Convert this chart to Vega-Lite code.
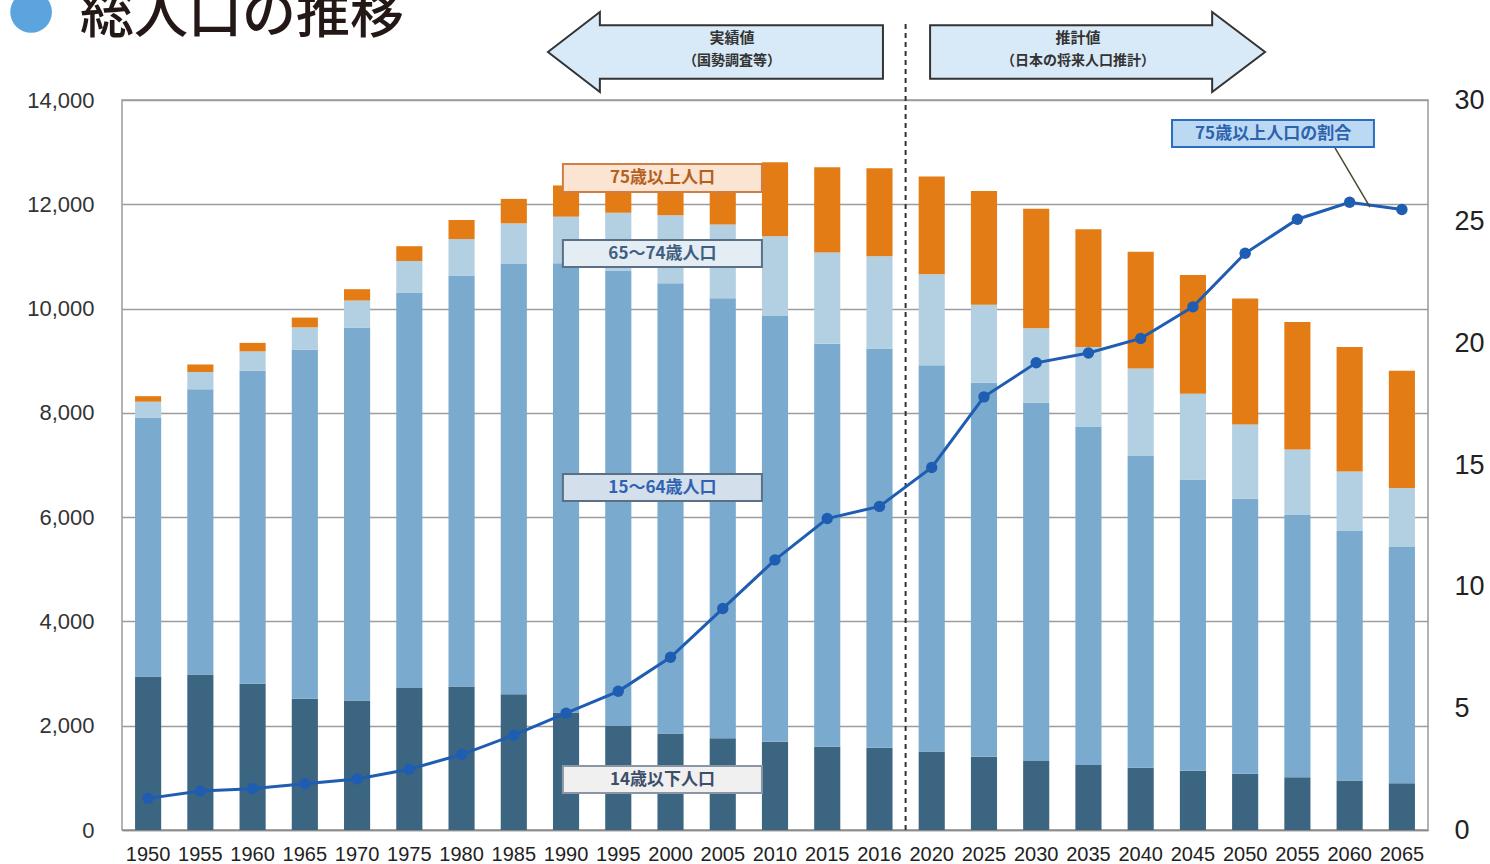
{
  "$schema": "https://vega.github.io/schema/vega-lite/v6.json",
  "autosize": "none",
  "padding": {"left": 122, "top": 100, "right": 62, "bottom": 34},
  "width": 1306,
  "height": 730,
  "background": "white",
  "config": {
    "view": {"stroke": "#9a9a9a", "strokeWidth": 1.5},
    "font": "Noto Sans CJK JP"
  },
  "title": {
    "text": "総人口の推移",
    "anchor": "start",
    "frame": "group",
    "baseline": "alphabetic",
    "dx": -42,
    "dy": 96,
    "offset": 0,
    "font": "Noto Sans CJK JP",
    "fontSize": 54,
    "color": "#231815",
    "fontWeight": 500
  },
  "datasets": {
    "pop": [
      {"year": "1950", "age": "14歳以下人口", "pop": 2943}, {"year": "1950", "age": "15〜64歳人口", "pop": 4966}, {"year": "1950", "age": "65〜74歳人口", "pop": 305}, {"year": "1950", "age": "75歳以上人口", "pop": 106},
      {"year": "1955", "age": "14歳以下人口", "pop": 2980}, {"year": "1955", "age": "15〜64歳人口", "pop": 5473}, {"year": "1955", "age": "65〜74歳人口", "pop": 331}, {"year": "1955", "age": "75歳以上人口", "pop": 144},
      {"year": "1960", "age": "14歳以下人口", "pop": 2807}, {"year": "1960", "age": "15〜64歳人口", "pop": 6000}, {"year": "1960", "age": "65〜74歳人口", "pop": 372}, {"year": "1960", "age": "75歳以上人口", "pop": 163},
      {"year": "1965", "age": "14歳以下人口", "pop": 2517}, {"year": "1965", "age": "15〜64歳人口", "pop": 6692}, {"year": "1965", "age": "65〜74歳人口", "pop": 431}, {"year": "1965", "age": "75歳以上人口", "pop": 187},
      {"year": "1970", "age": "14歳以下人口", "pop": 2482}, {"year": "1970", "age": "15〜64歳人口", "pop": 7157}, {"year": "1970", "age": "65〜74歳人口", "pop": 515}, {"year": "1970", "age": "75歳以上人口", "pop": 218},
      {"year": "1975", "age": "14歳以下人口", "pop": 2722}, {"year": "1975", "age": "15〜64歳人口", "pop": 7584}, {"year": "1975", "age": "65〜74歳人口", "pop": 606}, {"year": "1975", "age": "75歳以上人口", "pop": 284},
      {"year": "1980", "age": "14歳以下人口", "pop": 2751}, {"year": "1980", "age": "15〜64歳人口", "pop": 7883}, {"year": "1980", "age": "65〜74歳人口", "pop": 699}, {"year": "1980", "age": "75歳以上人口", "pop": 366},
      {"year": "1985", "age": "14歳以下人口", "pop": 2603}, {"year": "1985", "age": "15〜64歳人口", "pop": 8251}, {"year": "1985", "age": "65〜74歳人口", "pop": 779}, {"year": "1985", "age": "75歳以上人口", "pop": 471},
      {"year": "1990", "age": "14歳以下人口", "pop": 2255}, {"year": "1990", "age": "15〜64歳人口", "pop": 8612}, {"year": "1990", "age": "65〜74歳人口", "pop": 895}, {"year": "1990", "age": "75歳以上人口", "pop": 599},
      {"year": "1995", "age": "14歳以下人口", "pop": 2003}, {"year": "1995", "age": "15〜64歳人口", "pop": 8726}, {"year": "1995", "age": "65〜74歳人口", "pop": 1110}, {"year": "1995", "age": "75歳以上人口", "pop": 718},
      {"year": "2000", "age": "14歳以下人口", "pop": 1850}, {"year": "2000", "age": "15〜64歳人口", "pop": 8638}, {"year": "2000", "age": "65〜74歳人口", "pop": 1303}, {"year": "2000", "age": "75歳以上人口", "pop": 902},
      {"year": "2005", "age": "14歳以下人口", "pop": 1759}, {"year": "2005", "age": "15〜64歳人口", "pop": 8441}, {"year": "2005", "age": "65〜74歳人口", "pop": 1412}, {"year": "2005", "age": "75歳以上人口", "pop": 1165},
      {"year": "2010", "age": "14歳以下人口", "pop": 1693}, {"year": "2010", "age": "15〜64歳人口", "pop": 8166}, {"year": "2010", "age": "65〜74歳人口", "pop": 1529}, {"year": "2010", "age": "75歳以上人口", "pop": 1418},
      {"year": "2015", "age": "14歳以下人口", "pop": 1595}, {"year": "2015", "age": "15〜64歳人口", "pop": 7729}, {"year": "2015", "age": "65〜74歳人口", "pop": 1752}, {"year": "2015", "age": "75歳以上人口", "pop": 1633},
      {"year": "2016", "age": "14歳以下人口", "pop": 1578}, {"year": "2016", "age": "15〜64歳人口", "pop": 7656}, {"year": "2016", "age": "65〜74歳人口", "pop": 1768}, {"year": "2016", "age": "75歳以上人口", "pop": 1691},
      {"year": "2020", "age": "14歳以下人口", "pop": 1507}, {"year": "2020", "age": "15〜64歳人口", "pop": 7406}, {"year": "2020", "age": "65〜74歳人口", "pop": 1747}, {"year": "2020", "age": "75歳以上人口", "pop": 1872},
      {"year": "2025", "age": "14歳以下人口", "pop": 1407}, {"year": "2025", "age": "15〜64歳人口", "pop": 7170}, {"year": "2025", "age": "65〜74歳人口", "pop": 1497}, {"year": "2025", "age": "75歳以上人口", "pop": 2180},
      {"year": "2030", "age": "14歳以下人口", "pop": 1321}, {"year": "2030", "age": "15〜64歳人口", "pop": 6875}, {"year": "2030", "age": "65〜74歳人口", "pop": 1428}, {"year": "2030", "age": "75歳以上人口", "pop": 2288},
      {"year": "2035", "age": "14歳以下人口", "pop": 1246}, {"year": "2035", "age": "15〜64歳人口", "pop": 6494}, {"year": "2035", "age": "65〜74歳人口", "pop": 1522}, {"year": "2035", "age": "75歳以上人口", "pop": 2260},
      {"year": "2040", "age": "14歳以下人口", "pop": 1194}, {"year": "2040", "age": "15〜64歳人口", "pop": 5978}, {"year": "2040", "age": "65〜74歳人口", "pop": 1681}, {"year": "2040", "age": "75歳以上人口", "pop": 2239},
      {"year": "2045", "age": "14歳以下人口", "pop": 1138}, {"year": "2045", "age": "15〜64歳人口", "pop": 5584}, {"year": "2045", "age": "65〜74歳人口", "pop": 1643}, {"year": "2045", "age": "75歳以上人口", "pop": 2277},
      {"year": "2050", "age": "14歳以下人口", "pop": 1077}, {"year": "2050", "age": "15〜64歳人口", "pop": 5275}, {"year": "2050", "age": "65〜74歳人口", "pop": 1424}, {"year": "2050", "age": "75歳以上人口", "pop": 2417},
      {"year": "2055", "age": "14歳以下人口", "pop": 1012}, {"year": "2055", "age": "15〜64歳人口", "pop": 5028}, {"year": "2055", "age": "65〜74歳人口", "pop": 1258}, {"year": "2055", "age": "75歳以上人口", "pop": 2446},
      {"year": "2060", "age": "14歳以下人口", "pop": 951}, {"year": "2060", "age": "15〜64歳人口", "pop": 4793}, {"year": "2060", "age": "65〜74歳人口", "pop": 1133}, {"year": "2060", "age": "75歳以上人口", "pop": 2387},
      {"year": "2065", "age": "14歳以下人口", "pop": 898}, {"year": "2065", "age": "15〜64歳人口", "pop": 4529}, {"year": "2065", "age": "65〜74歳人口", "pop": 1133}, {"year": "2065", "age": "75歳以上人口", "pop": 2248}
    ],
    "ratio": [
      {"year": "1950", "ratio": 1.3}, {"year": "1955", "ratio": 1.6}, {"year": "1960", "ratio": 1.7}, {"year": "1965", "ratio": 1.9},
      {"year": "1970", "ratio": 2.1}, {"year": "1975", "ratio": 2.5}, {"year": "1980", "ratio": 3.1}, {"year": "1985", "ratio": 3.9},
      {"year": "1990", "ratio": 4.8}, {"year": "1995", "ratio": 5.7}, {"year": "2000", "ratio": 7.1}, {"year": "2005", "ratio": 9.1},
      {"year": "2010", "ratio": 11.1}, {"year": "2015", "ratio": 12.8}, {"year": "2016", "ratio": 13.3}, {"year": "2020", "ratio": 14.9},
      {"year": "2025", "ratio": 17.8}, {"year": "2030", "ratio": 19.2}, {"year": "2035", "ratio": 19.6}, {"year": "2040", "ratio": 20.2},
      {"year": "2045", "ratio": 21.5}, {"year": "2050", "ratio": 23.7}, {"year": "2055", "ratio": 25.1}, {"year": "2060", "ratio": 25.8},
      {"year": "2065", "ratio": 25.5}
    ]
  },
  "layer": [
    {
      "layer": [
        {
          "data": {"name": "pop"},
          "mark": {"type": "bar"},
          "encoding": {
            "x": {
              "field": "year", "type": "ordinal",
              "scale": {"paddingInner": 0.5, "paddingOuter": 0.25},
              "axis": {"title": null, "labelAngle": 0, "labelFont": "Liberation Sans", "labelFontSize": 20, "labelColor": "#222222", "labelPadding": 14, "ticks": false, "domainColor": "#8a8a8a", "domainWidth": 1.5, "grid": false}
            },
            "y": {
              "field": "pop", "type": "quantitative", "stack": "zero",
              "scale": {"domain": [0, 14000], "nice": false},
              "axis": {"title": null, "orient": "left", "values": [0, 2000, 4000, 6000, 8000, 10000, 12000, 14000], "labelExpr": "format(datum.value, ',')", "labelFont": "Liberation Sans", "labelFontSize": 22, "labelColor": "#333333", "labelPadding": 28, "ticks": false, "domain": false, "grid": true, "gridColor": "#9d9d9d", "gridWidth": 1.5}
            },
            "color": {
              "field": "age", "type": "nominal",
              "scale": {"domain": ["14歳以下人口", "15〜64歳人口", "65〜74歳人口", "75歳以上人口"], "range": ["#3b6581", "#7aaacd", "#b3d0e3", "#e47c16"]},
              "legend": null
            },
            "order": {"field": "age", "sort": "ascending"}
          }
        },
        {
          "data": {"values": [{}]},
          "mark": {"type": "point", "shape": "circle", "size": 1735, "filled": true, "fill": "#5ba4dd", "opacity": 1},
          "encoding": {
            "x": {"datum": "1950", "type": "ordinal", "bandPosition": -3.98},
            "y": {"datum": 15688, "type": "quantitative", "scale": {"domain": [0, 14000], "nice": false}}
          }
        },
        {
          "data": {"values": [{}]},
          "mark": {"type": "rect", "fill": "#fbe4d2", "stroke": "#cf7f45", "strokeWidth": 2},
          "encoding": {
            "x": {"datum": "1990", "type": "ordinal", "bandPosition": 0.38},
            "x2": {"datum": "2010", "bandPosition": 0},
            "y": {"datum": 12773, "type": "quantitative", "scale": {"domain": [0, 14000], "nice": false}},
            "y2": {"datum": 12236}
          }
        },
        {
          "data": {"values": [{}]},
          "mark": {"type": "text", "text": "75歳以上人口", "font": "Noto Sans CJK JP", "fontSize": 17, "fontWeight": "bold", "color": "#b5601e", "align": "center", "baseline": "middle"},
          "encoding": {
            "x": {"datum": "2000", "type": "ordinal", "bandPosition": 0.19},
            "y": {"datum": 12504, "type": "quantitative", "scale": {"domain": [0, 14000], "nice": false}}
          }
        },
        {
          "data": {"values": [{}]},
          "mark": {"type": "rect", "fill": "#e4ecf4", "stroke": "#5b7084", "strokeWidth": 2},
          "encoding": {
            "x": {"datum": "1990", "type": "ordinal", "bandPosition": 0.38},
            "x2": {"datum": "2010", "bandPosition": 0},
            "y": {"datum": 11315, "type": "quantitative", "scale": {"domain": [0, 14000], "nice": false}},
            "y2": {"datum": 10797}
          }
        },
        {
          "data": {"values": [{}]},
          "mark": {"type": "text", "text": "65〜74歳人口", "font": "Noto Sans CJK JP", "fontSize": 17, "fontWeight": "bold", "color": "#3f5f80", "align": "center", "baseline": "middle"},
          "encoding": {
            "x": {"datum": "2000", "type": "ordinal", "bandPosition": 0.19},
            "y": {"datum": 11056, "type": "quantitative", "scale": {"domain": [0, 14000], "nice": false}}
          }
        },
        {
          "data": {"values": [{}]},
          "mark": {"type": "rect", "fill": "#d3dfea", "stroke": "#5b7084", "strokeWidth": 2},
          "encoding": {
            "x": {"datum": "1990", "type": "ordinal", "bandPosition": 0.38},
            "x2": {"datum": "2010", "bandPosition": 0},
            "y": {"datum": 6827, "type": "quantitative", "scale": {"domain": [0, 14000], "nice": false}},
            "y2": {"datum": 6310}
          }
        },
        {
          "data": {"values": [{}]},
          "mark": {"type": "text", "text": "15〜64歳人口", "font": "Noto Sans CJK JP", "fontSize": 17, "fontWeight": "bold", "color": "#2f62b0", "align": "center", "baseline": "middle"},
          "encoding": {
            "x": {"datum": "2000", "type": "ordinal", "bandPosition": 0.19},
            "y": {"datum": 6568, "type": "quantitative", "scale": {"domain": [0, 14000], "nice": false}}
          }
        },
        {
          "data": {"values": [{}]},
          "mark": {"type": "rect", "fill": "#f0f0f0", "stroke": "#8a96a3", "strokeWidth": 2},
          "encoding": {
            "x": {"datum": "1990", "type": "ordinal", "bandPosition": 0.38},
            "x2": {"datum": "2010", "bandPosition": 0},
            "y": {"datum": 1227, "type": "quantitative", "scale": {"domain": [0, 14000], "nice": false}},
            "y2": {"datum": 710}
          }
        },
        {
          "data": {"values": [{}]},
          "mark": {"type": "text", "text": "14歳以下人口", "font": "Noto Sans CJK JP", "fontSize": 17, "fontWeight": "bold", "color": "#3d4f68", "align": "center", "baseline": "middle"},
          "encoding": {
            "x": {"datum": "2000", "type": "ordinal", "bandPosition": 0.19},
            "y": {"datum": 968, "type": "quantitative", "scale": {"domain": [0, 14000], "nice": false}}
          }
        },
        {
          "data": {"values": [{}]},
          "mark": {"type": "rule", "color": "#333333", "strokeWidth": 2, "strokeDash": [5, 4]},
          "encoding": {
            "x": {"datum": "2016", "type": "ordinal", "bandPosition": 1.5},
            "y": {"datum": 0, "type": "quantitative", "scale": {"domain": [0, 14000], "nice": false}},
            "y2": {"datum": 15534}
          }
        },
        {
          "data": {"values": [{}]},
          "mark": {"type": "point", "shape": "M -1 0 L -0.69 -0.239 L -0.69 -0.16 L 1 -0.16 L 1 0.16 L -0.69 0.16 L -0.69 0.239 Z", "size": 112225, "filled": true, "fill": "#d8eaf7", "stroke": "#333333", "strokeWidth": 2, "opacity": 1},
          "encoding": {
            "x": {"datum": "2005", "type": "ordinal", "bandPosition": 0.22},
            "y": {"datum": 14921, "type": "quantitative", "scale": {"domain": [0, 14000], "nice": false}}
          }
        },
        {
          "data": {"values": [{}]},
          "mark": {"type": "point", "shape": "M 1 0 L 0.684 -0.239 L 0.684 -0.16 L -1 -0.16 L -1 0.16 L 0.684 0.16 L 0.684 0.239 Z", "size": 112225, "filled": true, "fill": "#d8eaf7", "stroke": "#333333", "strokeWidth": 2, "opacity": 1},
          "encoding": {
            "x": {"datum": "2035", "type": "ordinal", "bandPosition": 0.85},
            "y": {"datum": 14921, "type": "quantitative", "scale": {"domain": [0, 14000], "nice": false}}
          }
        },
        {
          "data": {"values": [{}]},
          "mark": {"type": "text", "text": "実績値", "font": "Noto Sans CJK JP", "fontSize": 15, "fontWeight": "bold", "color": "#333333", "align": "center", "baseline": "middle"},
          "encoding": {
            "x": {"datum": "2005", "type": "ordinal", "bandPosition": 0.85},
            "y": {"datum": 15189, "type": "quantitative", "scale": {"domain": [0, 14000], "nice": false}}
          }
        },
        {
          "data": {"values": [{}]},
          "mark": {"type": "text", "text": "（国勢調査等）", "font": "Noto Sans CJK JP", "fontSize": 14, "fontWeight": "bold", "color": "#333333", "align": "center", "baseline": "middle"},
          "encoding": {
            "x": {"datum": "2005", "type": "ordinal", "bandPosition": 0.85},
            "y": {"datum": 14748, "type": "quantitative", "scale": {"domain": [0, 14000], "nice": false}}
          }
        },
        {
          "data": {"values": [{}]},
          "mark": {"type": "text", "text": "推計値", "font": "Noto Sans CJK JP", "fontSize": 15, "fontWeight": "bold", "color": "#333333", "align": "center", "baseline": "middle"},
          "encoding": {
            "x": {"datum": "2035", "type": "ordinal", "bandPosition": 0.1},
            "y": {"datum": 15189, "type": "quantitative", "scale": {"domain": [0, 14000], "nice": false}}
          }
        },
        {
          "data": {"values": [{}]},
          "mark": {"type": "text", "text": "（日本の将来人口推計）", "font": "Noto Sans CJK JP", "fontSize": 14, "fontWeight": "bold", "color": "#333333", "align": "center", "baseline": "middle"},
          "encoding": {
            "x": {"datum": "2035", "type": "ordinal", "bandPosition": 0.1},
            "y": {"datum": 14748, "type": "quantitative", "scale": {"domain": [0, 14000], "nice": false}}
          }
        }
      ]
    },
    {
      "layer": [
        {
          "data": {"name": "ratio"},
          "mark": {"type": "line", "color": "#1f5db3", "strokeWidth": 3},
          "encoding": {
            "x": {"field": "year", "type": "ordinal"},
            "y": {
              "field": "ratio", "type": "quantitative",
              "scale": {"domain": [0, 30], "nice": false},
              "axis": {"title": null, "orient": "right", "values": [0, 5, 10, 15, 20, 25, 30], "labelFont": "Liberation Sans", "labelFontSize": 27, "labelColor": "#222222", "labelPadding": 26, "ticks": false, "domain": false, "grid": false}
            }
          }
        },
        {
          "data": {"name": "ratio"},
          "mark": {"type": "point", "filled": true, "color": "#1f5db3", "size": 130, "opacity": 1},
          "encoding": {
            "x": {"field": "year", "type": "ordinal"},
            "y": {"field": "ratio", "type": "quantitative", "scale": {"domain": [0, 30], "nice": false}}
          }
        },
        {
          "data": {"values": [{}]},
          "mark": {"type": "rule", "color": "#4a4a2a", "strokeWidth": 1.5},
          "encoding": {
            "x": {"datum": "2060", "type": "ordinal", "bandPosition": -0.06},
            "y": {"datum": 28.03, "type": "quantitative", "scale": {"domain": [0, 30], "nice": false}},
            "x2": {"datum": "2060", "bandPosition": 1.28},
            "y2": {"datum": 25.6}
          }
        },
        {
          "data": {"values": [{}]},
          "mark": {"type": "rect", "fill": "#bcd9f3", "stroke": "#2a6cc0", "strokeWidth": 2},
          "encoding": {
            "x": {"datum": "2045", "type": "ordinal", "bandPosition": -0.3},
            "x2": {"datum": "2060", "bandPosition": 1.43},
            "y": {"datum": 29.18, "type": "quantitative", "scale": {"domain": [0, 30], "nice": false}},
            "y2": {"datum": 28.07}
          }
        },
        {
          "data": {"values": [{}]},
          "mark": {"type": "text", "text": "75歳以上人口の割合", "font": "Noto Sans CJK JP", "fontSize": 17, "fontWeight": "bold", "color": "#2d62ad", "align": "center", "baseline": "middle"},
          "encoding": {
            "x": {"datum": "2050", "type": "ordinal", "bandPosition": 1.57},
            "y": {"datum": 28.6, "type": "quantitative", "scale": {"domain": [0, 30], "nice": false}}
          }
        }
      ]
    }
  ],
  "resolve": {"scale": {"y": "independent"}}
}
